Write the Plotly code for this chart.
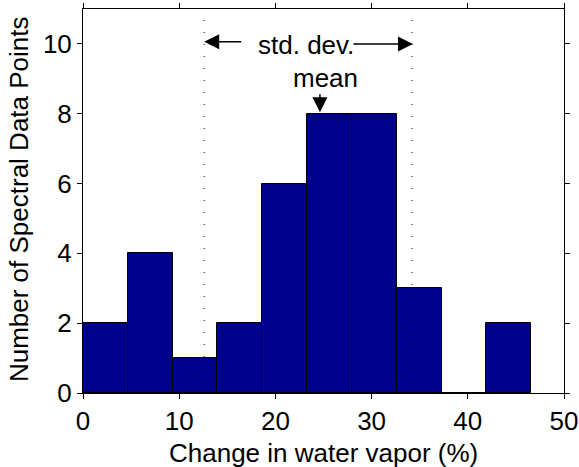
import plotly.graph_objects as go

# ---- data ----
bin_left = [0.0, 4.66, 9.32, 13.98, 18.64, 23.30, 27.96, 32.62, 37.28, 41.94]
bin_width = 4.66
counts = [2, 4, 1, 2, 6, 8, 8, 3, 0, 2]
x_ticks = [0, 10, 20, 30, 40, 50]
y_ticks = [0, 2, 4, 6, 8, 10]
std_lo, std_hi = 12.6, 34.2
mean_val = 24.63

FONT = "Liberation Sans, Arial, sans-serif"
FS = 26

fig = go.Figure()
fig.add_trace(go.Bar(
    x=bin_left, y=counts, width=bin_width, offset=0,
    marker=dict(color="#00008F", line=dict(color="black", width=1)),
    showlegend=False, hoverinfo="skip"))

for xv in (std_lo, std_hi):
    fig.add_trace(go.Scatter(
        x=[xv, xv], y=[0, 11], mode="lines",
        line=dict(color="black", width=1, dash="1px,11px"),
        showlegend=False, hoverinfo="skip"))

arrow_kw = dict(showarrow=True, text="", axref="x", ayref="y", xref="x", yref="y",
                arrowhead=2, arrowsize=2.0, arrowwidth=1.5, arrowcolor="black")

fig.add_annotation(x=std_lo, y=10.06, ax=16.6, ay=10.06, **arrow_kw)
fig.add_annotation(x=std_hi + 0.1, y=10.0, ax=27.95, ay=10.0, **arrow_kw)
fig.add_annotation(x=mean_val, y=8.04, ax=mean_val, ay=8.6, **arrow_kw)

fig.add_annotation(x=23.15, y=9.97, text="std. dev.", showarrow=False,
                   xanchor="center", yanchor="middle",
                   font=dict(family=FONT, size=FS, color="black"))
fig.add_annotation(x=25.2, y=9.03, text="mean", showarrow=False,
                   xanchor="center", yanchor="middle",
                   font=dict(family=FONT, size=FS, color="black"))

# axis titles
fig.add_annotation(xref="paper", yref="paper", x=0.5, y=-0.156,
                   text="Change in water vapor (%)", showarrow=False,
                   xanchor="center", yanchor="middle",
                   font=dict(family=FONT, size=FS, color="black"))
fig.add_annotation(xref="paper", yref="paper", x=-0.133, y=0.505,
                   text="Number of Spectral Data Points", showarrow=False,
                   textangle=-90, xanchor="center", yanchor="middle",
                   font=dict(family=FONT, size=FS, color="black"))

axis_common = dict(showline=True, linecolor="black", linewidth=1, mirror="ticks",
                   ticks="outside", ticklen=5, tickcolor="black", tickwidth=1,
                   showgrid=False, zeroline=False, automargin=False,
                   tickfont=dict(family=FONT, size=FS, color="black"))

fig.update_layout(
    width=579, height=467,
    margin=dict(l=83, r=15, t=9, b=74, autoexpand=False),
    plot_bgcolor="white", paper_bgcolor="white",
    bargap=0,
    xaxis=dict(range=[0, 50], tickvals=x_ticks, **axis_common),
    yaxis=dict(range=[0, 11], tickvals=y_ticks, **axis_common),
)

fig.write_html("out.html")
